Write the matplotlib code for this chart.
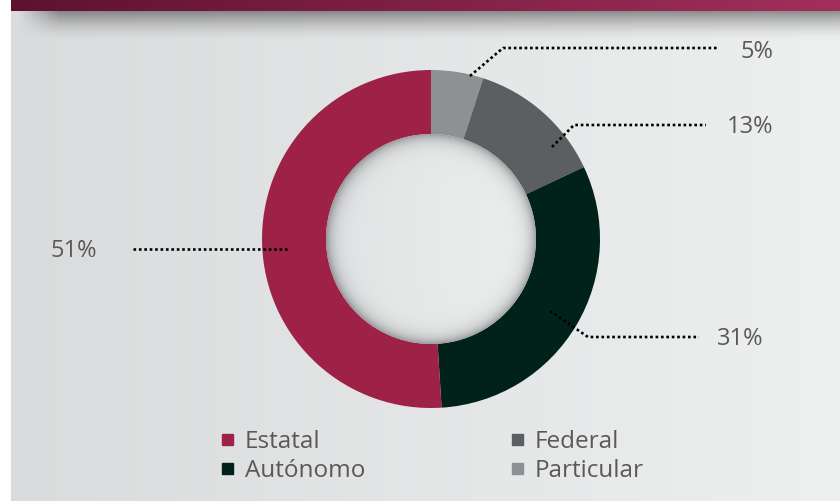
import numpy as np
import matplotlib.pyplot as plt
from matplotlib.patches import Circle, Rectangle
from matplotlib.colors import LinearSegmentedColormap, to_rgb

plt.rcParams['font.family'] = ['Open Sans', 'DejaVu Sans']

# datos
categorias = ['Particular', 'Federal', 'Autónomo', 'Estatal']
valores = [5, 13, 31, 51]
colores = ['#8D9194', '#5B5F62', '#00221A', '#9E2148']
etiquetas = ['5%', '13%', '31%', '51%']
orden_leyenda = ['Estatal', 'Autónomo', 'Federal', 'Particular']

W, H = 840, 502
def Y(y):  # coordenada de imagen -> eje
    return H - y

fig = plt.figure(figsize=(8.4, 5.02), dpi=100)
ax = fig.add_axes([0, 0, 1, 1])

# fondo con degradado horizontal
bg = np.linspace(0, 1, 256)[None, :]
cmap_bg = LinearSegmentedColormap.from_list('bg', ['#DADBDC', '#EEEFEF'])
ax.imshow(bg, extent=(11, W, 0, H), cmap=cmap_bg, aspect='auto', zorder=0)

# barra superior
cmap_bar = LinearSegmentedColormap.from_list('bar', ['#5E1230', '#A22F5B'])
ax.imshow(bg, extent=(11, W, Y(12), H), cmap=cmap_bar, aspect='auto', zorder=3)

# sombra bajo la barra
xs = np.linspace(11, W, 400)
ds = np.linspace(0, 30, 60)
av = np.clip(1 - ds / 30, 0, 1) ** 1.6
ah = np.clip((xs - 18) / 40, 0, 1)
sh = np.zeros((60, 400, 4))
sh[..., :3] = 0.3
sh[..., 3] = 0.6 * av[:, None] * ah[None, :]
ax.imshow(sh, extent=(11, W, Y(42), Y(12)), aspect='auto', zorder=1)

# dona
cx, cy, R, r = 431, Y(240), 169, 105
ax.pie(valores, colors=colores, startangle=90, counterclock=False,
       radius=R, center=(cx, cy), frame=True,
       wedgeprops=dict(width=R - r, edgecolor='none'))

# hueco interior con sombra
n = 400
gx, gy = np.meshgrid(np.linspace(-r, r, n), np.linspace(r, -r, n))
rr = np.sqrt(gx ** 2 + gy ** 2)
c0, c1 = np.array(to_rgb('#E2E3E4')), np.array(to_rgb('#EDEEEE'))
t = ((gx + r) / (2 * r))[..., None]
base = c0 * (1 - t) + c1 * t
shade = 0.30 * np.exp(-np.clip(r - rr, 0, None) / 7.0)
img = np.clip(base - shade[..., None], 0, 1)
im = ax.imshow(img, extent=(cx - r, cx + r, cy - r, cy + r), zorder=4)
im.set_clip_path(Circle((cx, cy), r, transform=ax.transData))

# lineas guia y porcentajes
guias = {
    '5%': [(470, 77), (503, 49), (717, 49)],
    '13%': [(552, 148), (574, 126), (706, 126)],
    '31%': [(550, 312), (588, 338), (699, 338)],
    '51%': [(133, 250), (290, 250)],
}
pos_txt = {'5%': (773, 58), '13%': (773, 133), '31%': (763, 345), '51%': (97, 257)}
for et in etiquetas:
    pts = guias[et]
    ax.plot([p[0] for p in pts], [Y(p[1]) for p in pts], color='black',
            lw=1.9, linestyle=(0, (1, 1.05)), zorder=5)
    x, y = pos_txt[et]
    ax.text(x, Y(y), et, ha='right', va='baseline', fontsize=17,
            color='#595959', zorder=6)

# leyenda
pos_ley = {'Estatal': (222, 448), 'Autónomo': (222, 477),
           'Federal': (512, 448), 'Particular': (512, 477)}
for nombre in orden_leyenda:
    c = colores[categorias.index(nombre)]
    x, y = pos_ley[nombre]
    ax.add_patch(Rectangle((x, Y(y - 2)), 11, 11, color=c, zorder=5))
    ax.text(x + 23, Y(y), nombre, ha='left', va='baseline', fontsize=17.5,
            color='#595959', zorder=6)

ax.set_xlim(0, W)
ax.set_ylim(0, H)
ax.set_aspect('auto')
ax.axis('off')
fig.savefig('out.png', dpi=100, facecolor='white')
